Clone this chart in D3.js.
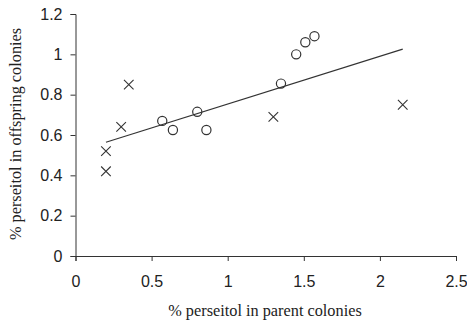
<!DOCTYPE html>
<meta charset="utf-8">
<style>
body { margin: 0; background: #fff; }
.tick text { font-family: "Liberation Sans", Arial, sans-serif; font-size: 16px; fill: #222; }
.title { font-family: "Liberation Serif", "Times New Roman", serif; font-size: 16.3px; fill: #222; }
</style>
<body>
<script src="https://d3js.org/d3.v7.min.js"></script>
<script>

// crosses
var crossX = [0.2, 0.2, 0.3, 0.35, 1.3, 2.15];
var crossY = [0.52, 0.42, 0.64, 0.85, 0.69, 0.75];
// circles
var circleX = [0.57, 0.64, 0.8, 0.86, 1.35, 1.45, 1.51, 1.57];
var circleY = [0.67, 0.625, 0.715, 0.625, 0.855, 1.0, 1.06, 1.09];
// fitted line ends
var trendX = [0.2, 2.15];
var trendY = [0.564, 1.026];

var xTicks = [0, 0.5, 1, 1.5, 2, 2.5];
var yTicks = [0, 0.2, 0.4, 0.6, 0.8, 1, 1.2];

var width = 467, height = 321;
var ink = "#333";

var svg = d3.select("body").append("svg")
    .attr("width", width)
    .attr("height", height);

var x = d3.scaleLinear().domain([0, 2.5]).range([75.5, 456]);
var y = d3.scaleLinear().domain([0, 1.2]).range([256, 14]);

var xAxis = svg.append("g")
    .attr("transform", "translate(0," + y(0) + ")")
    .call(d3.axisBottom(x).tickValues(xTicks).tickSize(5).tickPadding(15)
      .tickFormat(d3.format("")));

var yAxis = svg.append("g")
    .attr("transform", "translate(" + x(0) + ",0)")
    .call(d3.axisLeft(y).tickValues(yTicks).tickSize(5).tickPadding(8)
      .tickFormat(d3.format("")));

svg.selectAll(".domain, .tick line").attr("stroke", ink).attr("stroke-width", 1);

svg.append("line")
    .attr("x1", x(trendX[0])).attr("y1", y(trendY[0]))
    .attr("x2", x(trendX[1])).attr("y2", y(trendY[1]))
    .attr("stroke", ink).attr("stroke-width", 1.2);

svg.append("g").selectAll("circle")
    .data(circleX)
    .enter().append("circle")
      .attr("cx", function(d) { return x(d); })
      .attr("cy", function(d, i) { return y(circleY[i]); })
      .attr("r", 4.6)
      .attr("fill", "none")
      .attr("stroke", ink)
      .attr("stroke-width", 1.2);

var s = 4.8;
svg.append("g").selectAll("path")
    .data(crossX)
    .enter().append("path")
      .attr("d", function(d, i) {
        var cx = x(d), cy = y(crossY[i]);
        return "M" + (cx - s) + "," + (cy - s) + "L" + (cx + s) + "," + (cy + s) +
               "M" + (cx - s) + "," + (cy + s) + "L" + (cx + s) + "," + (cy - s);
      })
      .attr("stroke", ink)
      .attr("stroke-width", 1.1)
      .attr("fill", "none");

svg.append("text")
    .attr("class", "title")
    .attr("x", 265)
    .attr("y", 316)
    .attr("text-anchor", "middle")
    .text("% perseitol in parent colonies");

svg.append("text")
    .attr("class", "title")
    .attr("transform", "translate(21,134) rotate(-90)")
    .attr("text-anchor", "middle")
    .text("% perseitol in offspring colonies");

</script>
</body>
